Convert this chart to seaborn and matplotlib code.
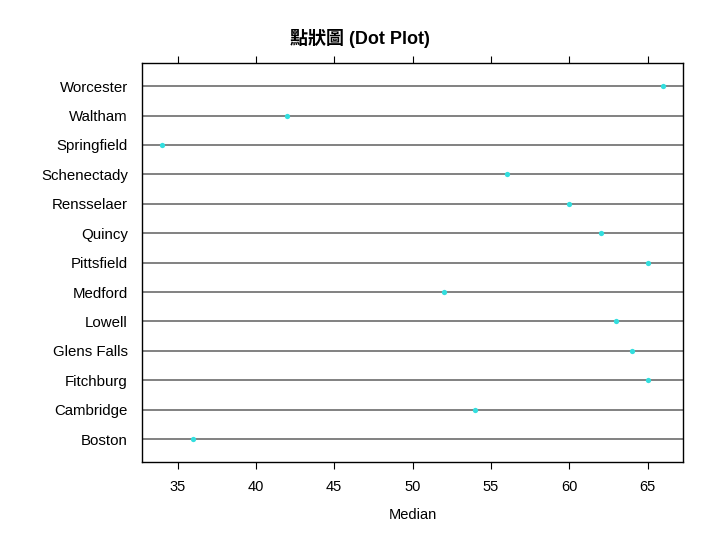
import pandas as pd
import seaborn as sns
import matplotlib.pyplot as plt

# city medians, listed top to bottom as drawn
cities = ['Worcester', 'Waltham', 'Springfield', 'Schenectady', 'Rensselaer',
          'Quincy', 'Pittsfield', 'Medford', 'Lowell', 'Glens Falls',
          'Fitchburg', 'Cambridge', 'Boston']
medians = [66, 42, 34, 56, 60, 62, 65, 52, 63, 64, 65, 54, 36]
x_ticks = [35, 40, 45, 50, 55, 60, 65]

df = pd.DataFrame({'city': cities, 'Median': medians})

sns.set_style('white')
plt.rcParams['font.family'] = ['Liberation Sans', 'Noto Sans CJK TC']
plt.rcParams['text.color'] = 'black'
plt.rcParams['axes.labelcolor'] = 'black'
plt.rcParams['xtick.color'] = 'black'
plt.rcParams['ytick.color'] = 'black'

fig = plt.figure(figsize=(7.2, 5.4), dpi=100)
ax = fig.add_axes([0.197, 0.1444, 0.752, 0.7386])

# reference lines behind the dots
for i in range(len(cities)):
    ax.axhline(i, color='#777777', lw=1.3, zorder=1)

sns.stripplot(data=df, x='Median', y='city', order=cities, jitter=False,
              color='#33dede', size=3.8, linewidth=0, ax=ax, zorder=3)

ax.set_xlim(32.72, 67.28)
ax.set_ylim(len(cities) - 1 + 0.78, -0.78)
ax.set_xticks(x_ticks)
ax.set_xticklabels([str(t) for t in x_ticks])
ax.tick_params(axis='x', which='both', direction='out', length=5, width=0.8,
               color='black', top=True, bottom=True, labelsize=10.5, pad=8)
ax.tick_params(axis='y', length=0, labelsize=10.8, pad=10)
for sp in ax.spines.values():
    sp.set_visible(True)
    sp.set_color('black')
    sp.set_linewidth(1.0)

ax.set_ylabel('')
ax.set_xlabel('Median', fontsize=10.5, labelpad=10)
fig.suptitle('點狀圖 (Dot Plot)', x=0.5, y=0.946, fontsize=13,
             fontweight='bold', color='black')

fig.savefig('out.png', dpi=100)
